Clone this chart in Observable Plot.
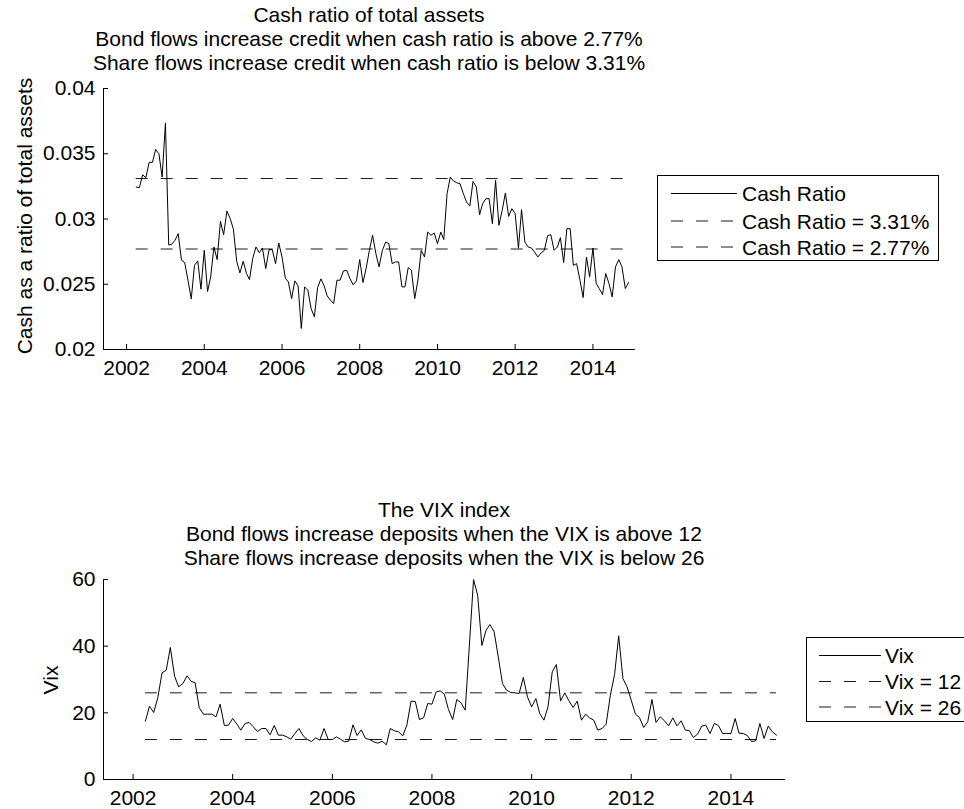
<!DOCTYPE html>
<html><head><meta charset="utf-8">
<script src="https://cdn.jsdelivr.net/npm/d3@7"></script>
<script src="https://cdn.jsdelivr.net/npm/@observablehq/plot@0.6"></script>
<style>
html,body{margin:0;padding:0;background:#fff;overflow:hidden}
#root{position:relative;width:964px;height:809px;overflow:hidden;font-family:"Liberation Sans",Arial,Helvetica,sans-serif;color:#000;background:#fff}
.plot{position:absolute;left:0}
.title{position:absolute;font-size:21px;line-height:24px;text-align:center;white-space:nowrap;transform:translateX(-50%)}
.ylab{position:absolute;font-size:21px;line-height:24px;white-space:nowrap;transform:translate(-50%,-50%) rotate(-90deg)}
.legend{position:absolute;background:#fff;border:1px solid #000;box-sizing:border-box}
</style>
</head><body><div id="root"></div>
<script>
// ---------- data ----------
const firstMonth = "2002-04";   // first observation (monthly series)
const lastMonth = "2014-12";    // last observation
const cashRatio = [
0.03245,0.0324,0.03339,0.03316,0.03434,0.03434,0.03533,0.0350,0.03321,0.03735,
0.02801,0.02806,0.02837,0.02888,0.02684,0.02666,0.02531,0.02388,0.02645,0.02679,
0.02462,0.0276,0.02444,0.02556,0.02786,0.02689,0.02982,0.0288,0.03061,0.03003,
0.02921,0.02676,0.02587,0.02676,0.02582,0.02536,0.02699,0.02786,0.02742,0.02776,
0.0262,0.02765,0.02765,0.02658,0.02816,0.02709,0.02546,0.02518,0.0239,0.02526,
0.02487,0.02161,0.0248,0.02454,0.02314,0.0225,0.02474,0.02541,0.02487,0.02411,
0.02378,0.02352,0.02531,0.02531,0.02602,0.02607,0.02543,0.02495,0.02526,0.02689,
0.02513,0.0262,0.0276,0.02875,0.02735,0.02633,0.0276,0.02824,0.02811,0.02658,
0.02671,0.02671,0.0248,0.0248,0.02628,0.02607,0.0239,0.02531,0.0276,0.02709,
0.029,0.02875,0.02893,0.02811,0.029,0.02842,0.03194,0.03321,0.03291,0.03278,
0.0327,0.03194,0.0313,0.031,0.03288,0.03245,0.03033,0.03117,0.03156,0.03156,
0.02964,0.03296,0.02952,0.03066,0.03199,0.0302,0.03079,0.03041,0.02776,0.03071,
0.02824,0.02786,0.02778,0.02747,0.02709,0.0274,0.0276,0.02872,0.0288,0.0276,
0.02786,0.02857,0.02666,0.02926,0.02926,0.02645,0.02658,0.02531,0.02398,0.02709,
0.02556,0.02778,0.02505,0.02467,0.02421,0.02582,0.02505,0.02403,0.02633,0.02689,
0.02633,0.02467,0.02513];
const vix = [
17.5,22.0,20.1,24.5,32.0,32.8,39.6,31.0,27.8,28.8,
31.1,29.5,29.0,21.5,19.6,19.6,19.6,18.8,22.6,16.2,
16.3,18.3,16.6,14.8,16.8,17.1,15.8,14.4,15.3,15.3,
13.4,16.2,13.3,13.3,12.8,12.1,13.8,15.3,13.1,12.0,
11.4,12.5,11.8,15.3,12.0,12.0,12.8,12.1,11.3,11.5,
16.4,13.2,14.9,12.3,12.0,11.3,10.9,11.5,10.4,15.3,
14.6,14.3,13.1,16.3,23.5,23.4,18.0,18.5,22.8,22.6,
26.3,26.6,25.6,21.0,18.0,24.0,23.0,20.8,40.0,60.0,
55.3,40.2,44.8,46.5,44.3,36.8,28.8,26.8,26.1,26.0,
25.8,30.6,24.8,21.8,24.3,19.8,17.8,21.8,32.3,34.5,
23.6,26.0,23.6,21.6,23.5,17.8,19.6,18.5,17.8,14.8,
15.3,16.6,25.3,31.5,43.1,30.3,27.8,23.8,19.6,18.6,
15.6,17.3,24.0,17.1,18.8,17.6,16.1,18.5,16.1,17.6,
14.8,14.7,12.6,13.6,16.0,16.3,13.8,16.8,16.2,13.8,
13.8,13.8,18.3,13.9,13.8,13.2,11.4,11.6,16.8,12.3,
16.0,14.3,13.3];
const cashLevels = [0.0331, 0.0277];
const vixLevels = [12, 26];
const xLimits = ["2001-05-29", "2015-02-05"];
const yearTicks = ["2002","2004","2006","2008","2010","2012","2014"];
const cashTicks = [0.02, 0.025, 0.03, 0.035, 0.04];
const cashTickLabels = ["0.02","0.025","0.03","0.035","0.04"];
const vixTicks = [0, 20, 40, 60];
const vixTickLabels = ["0","20","40","60"];
const topTitle = ["Cash ratio of total assets",
  "Bond flows increase credit when cash ratio is above 2.77%",
  "Share flows increase credit when cash ratio is below 3.31%"];
const bottomTitle = ["The VIX index",
  "Bond flows increase deposits when the VIX is above 12",
  "Share flows increase deposits when the VIX is below 26"];
const topLegend = ["Cash Ratio", "Cash Ratio = 3.31%", "Cash Ratio = 2.77%"];
const bottomLegend = ["Vix", "Vix = 12", "Vix = 26"];

// ---------- build ----------
const parseM = d3.utcParse("%Y-%m");
const dates = d3.utcMonth.range(parseM(firstMonth), d3.utcMonth.offset(parseM(lastMonth), 1));
const cashRows = dates.map((d, i) => ({date: d, value: cashRatio[i]}));
const vixRows = dates.map((d, i) => ({date: d, value: vix[i]}));
const xDomain = xLimits.map(d3.utcParse("%Y-%m-%d"));
const xTickDates = yearTicks.map(d3.utcParse("%Y"));
const first = dates[0], last = dates[dates.length - 1];
const dash = "12,13";
const font = "'Liberation Sans', Arial, Helvetica, sans-serif";
const FS = 21;

function chart({height, top, mR, mT, mB, yDomain, yTicks, yLabels, rows, levels}) {
  const svg = Plot.plot({
    width: 964, height,
    marginLeft: 103, marginRight: mR, marginTop: mT, marginBottom: mB,
    style: {fontFamily: font, fontSize: FS + "px", background: "transparent", color: "#000", overflow: "visible"},
    x: {type: "utc", domain: xDomain},
    y: {domain: yDomain},
    marks: [
      Plot.axisX({ticks: xTickDates, tickFormat: d3.utcFormat("%Y"), tickSize: -5, tickPadding: 16, label: null}),
      Plot.axisY({ticks: yTicks, tickFormat: (d) => yLabels[yTicks.indexOf(d)], tickSize: -5, tickPadding: 13, label: null}),
      Plot.ruleX([xDomain[0]], {stroke: "#000"}),
      Plot.ruleY([yDomain[0]], {stroke: "#000"}),
      Plot.ruleY(levels.map(v => ({y: v, x1: first, x2: last})), {y: "y", x1: "x1", x2: "x2", stroke: "#000", strokeWidth: 0.9, strokeDasharray: dash}),
      Plot.lineY(rows, {x: "date", y: "value", stroke: "#000", strokeWidth: 1})
    ]
  });
  svg.classList.add("plot");
  svg.style.top = top + "px";
  return svg;
}

const root = document.getElementById("root");
root.appendChild(chart({height: 400, top: 0, mR: 329, mT: 88, mB: 51,
  yDomain: [0.02, 0.04], yTicks: cashTicks, yLabels: cashTickLabels, rows: cashRows, levels: cashLevels}));
root.appendChild(chart({height: 389, top: 420, mR: 179, mT: 159, mB: 30,
  yDomain: [0, 60], yTicks: vixTicks, yLabels: vixTickLabels, rows: vixRows, levels: vixLevels}));

function title(lines, cx, topY) {
  const d = document.createElement("div");
  d.className = "title";
  d.style.left = cx + "px"; d.style.top = topY + "px";
  lines.forEach((t, i) => { if (i) d.appendChild(document.createElement("br")); d.appendChild(document.createTextNode(t)); });
  root.appendChild(d);
}
title(topTitle, 369, 3);
title(bottomTitle, 444, 498);

function ylab(text, cx, cy) {
  const d = document.createElement("div");
  d.className = "ylab"; d.textContent = text;
  d.style.left = cx + "px"; d.style.top = cy + "px";
  root.appendChild(d);
}
ylab("Cash as a ratio of total assets", 25, 216);
ylab("Vix", 51, 680);

function legend(labels, left, top, w, h, rowsY, x0, x1, tx) {
  const div = document.createElement("div");
  div.className = "legend";
  Object.assign(div.style, {left: left + "px", top: top + "px", width: w + "px", height: h + "px"});
  const s = d3.create("svg").attr("width", w).attr("height", h).style("position", "absolute").style("left", "-1px").style("top", "-1px");
  labels.forEach((t, i) => {
    s.append("line").attr("x1", x0).attr("x2", x1).attr("y1", rowsY[i]).attr("y2", rowsY[i])
      .attr("stroke", "#000").attr("stroke-width", i ? 0.9 : 1).attr("stroke-dasharray", i ? dash : null);
    s.append("text").attr("x", tx).attr("y", rowsY[i] + 7.5).attr("font-family", font).attr("font-size", FS).text(t);
  });
  div.appendChild(s.node());
  root.appendChild(div);
}
legend(topLegend, 657, 175, 282, 86, [18.5, 46, 72], 14, 80, 85);
legend(bottomLegend, 806, 637, 220, 85, [18.5, 44.5, 70], 13, 75, 79);
</script>
</body></html>
